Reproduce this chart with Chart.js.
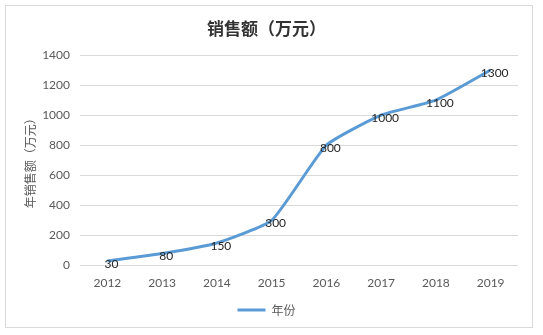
<!DOCTYPE html>
<html>
<head>
<meta charset="utf-8">
<script src="https://cdn.jsdelivr.net/npm/chart.js@4/dist/chart.umd.min.js"></script>
<style>
    html, body { margin: 0; padding: 0; background: #fff; }
    #wrap { width: 543px; height: 335px; position: relative; }
</style>
</head>
<body>
<div id="wrap"><canvas id="salesChart"></canvas></div>
<script>
// Chart data
const years = ['2012', '2013', '2014', '2015', '2016', '2017', '2018', '2019'];
const sales = [30, 80, 150, 300, 800, 1000, 1100, 1300];
const yTicks = [0, 200, 400, 600, 800, 1000, 1200, 1400];

const chartTitle = '销售额（万元）';
const yAxisTitle = '年销售额（万元）';
const seriesName = '年份';

const lineColor = '#5b9bd5';

// Light grey frame round the whole chart
const framePlugin = {
    id: 'frame',
    beforeDraw(chart) {
        const ctx = chart.ctx;
        ctx.save();
        ctx.fillStyle = '#fff';
        ctx.fillRect(0, 0, chart.width, chart.height);
        ctx.strokeStyle = '#d9d9d9';
        ctx.lineWidth = 1;
        ctx.strokeRect(5.5, 5.5, 527, 322);
        ctx.restore();
    }
};

// Value labels next to each point
const valueLabels = {
    id: 'valueLabels',
    afterDatasetsDraw(chart) {
        const ctx = chart.ctx;
        const meta = chart.getDatasetMeta(0);
        ctx.save();
        ctx.font = '12px Lato';
        ctx.fillStyle = '#262626';
        ctx.textAlign = 'center';
        ctx.textBaseline = 'middle';
        meta.data.forEach((pt, i) => {
            ctx.fillText(String(sales[i]), pt.x + 4, pt.y + 3);
        });
        ctx.restore();
    }
};

new Chart(document.getElementById('salesChart'), {
    type: 'line',
    data: {
        labels: years,
        datasets: [{
            label: seriesName,
            data: sales,
            borderColor: lineColor,
            backgroundColor: lineColor,
            borderWidth: 3,
            pointRadius: 0,
            tension: 0.15,
            fill: false
        }]
    },
    options: {
        responsive: true,
        maintainAspectRatio: false,
        animation: false,
        layout: {
            padding: { left: 15, right: 25, top: 0, bottom: 9 }
        },
        plugins: {
            title: {
                display: true,
                text: chartTitle,
                color: '#333333',
                font: { family: 'Noto Sans CJK SC', size: 17, weight: 'bold', lineHeight: 1.2 },
                padding: { top: 18, bottom: 16.6 }
            },
            legend: {
                position: 'bottom',
                labels: {
                    color: '#595959',
                    font: { family: 'Noto Sans CJK SC', size: 12 },
                    boxWidth: 28,
                    boxHeight: 3,
                    padding: 10,
                    generateLabels(chart) {
                        return Chart.defaults.plugins.legend.labels.generateLabels(chart).map(item => {
                            item.lineWidth = 0;
                            item.fillStyle = lineColor;
                            return item;
                        });
                    }
                }
            },
            tooltip: { enabled: false }
        },
        scales: {
            x: {
                offset: true,
                grid: { display: false, drawTicks: false },
                border: { display: false },
                ticks: {
                    color: '#595959',
                    font: { family: 'Lato', size: 12 },
                    padding: 10
                },
                afterFit(scale) {
                    scale.height = 28.4;
                }
            },
            y: {
                min: 0,
                max: 1400,
                afterBuildTicks(scale) {
                    scale.ticks = yTicks.map(v => ({ value: v }));
                },
                afterFit(scale) {
                    scale.width = 65;
                },
                grid: { color: '#d9d9d9', drawTicks: false },
                border: { display: false },
                ticks: {
                    color: '#595959',
                    font: { family: 'Lato', size: 12 },
                    padding: 10,
                    callback: value => String(value)
                },
                title: {
                    display: true,
                    text: yAxisTitle,
                    color: '#595959',
                    font: { family: 'Noto Sans CJK SC', size: 12 },
                    padding: { top: 8, bottom: 0 }
                }
            }
        }
    },
    plugins: [framePlugin, valueLabels]
});
</script>
</body>
</html>
